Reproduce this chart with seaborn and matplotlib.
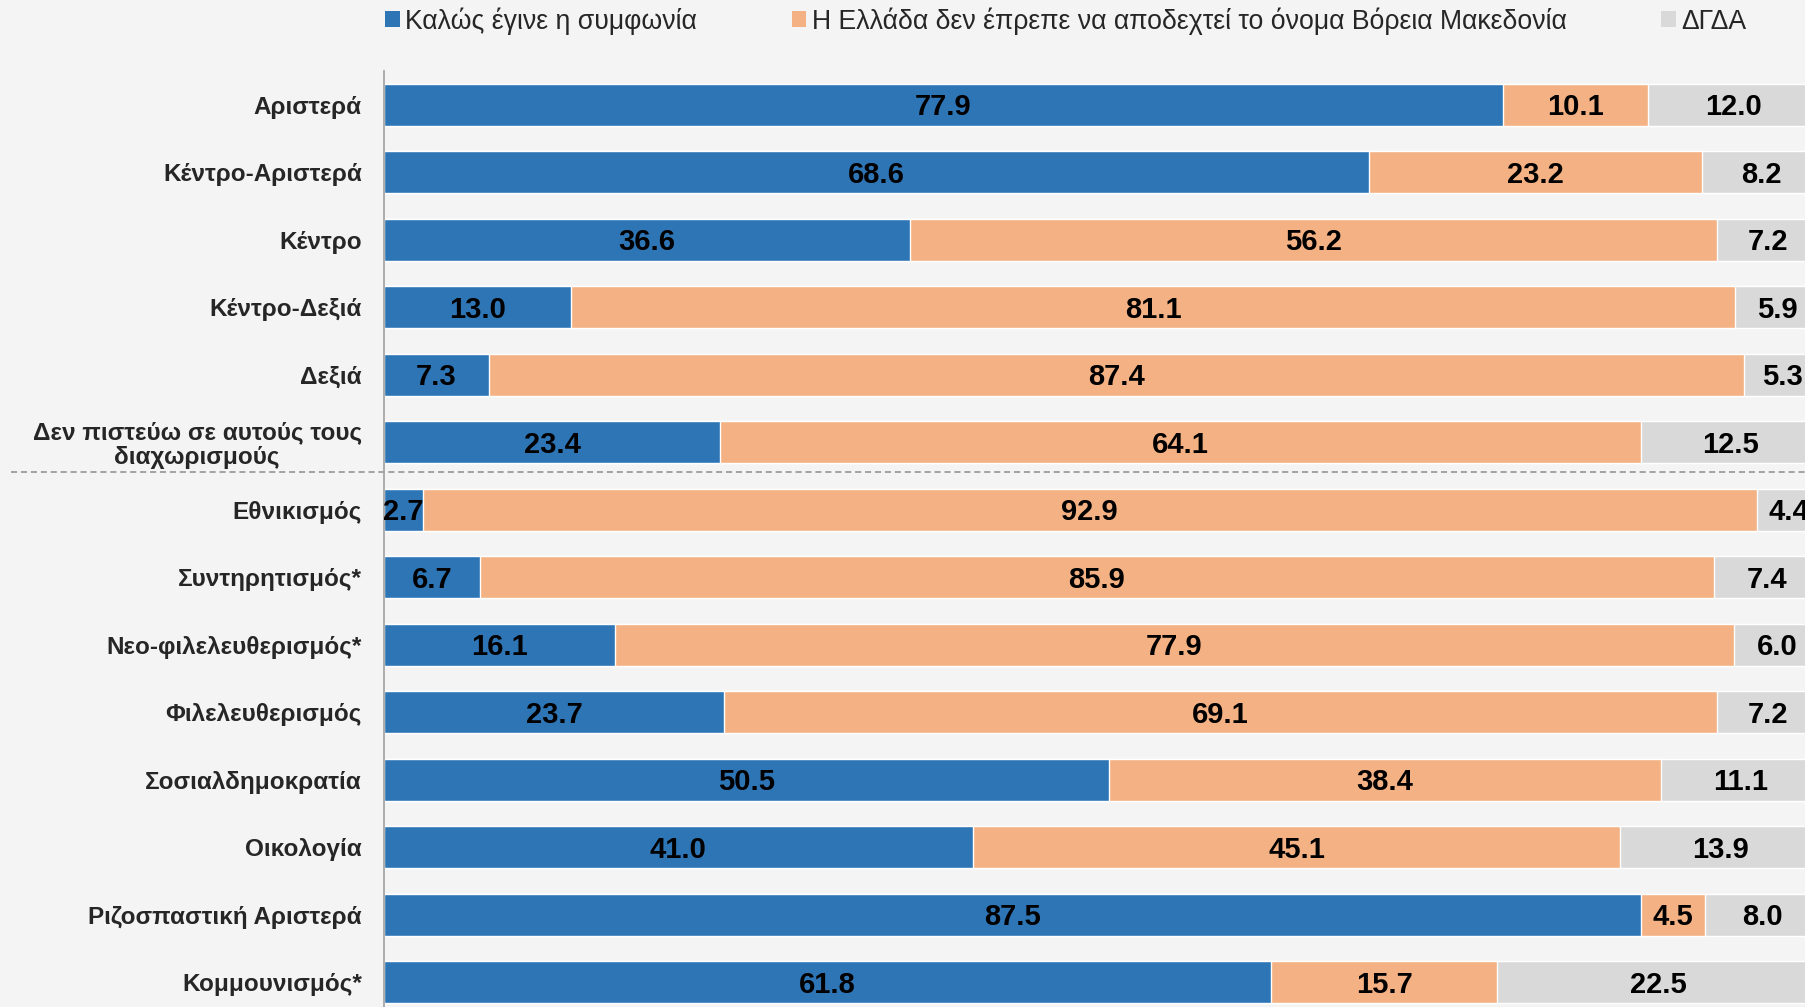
import numpy as np
import pandas as pd
import matplotlib
matplotlib.use("Agg")
import matplotlib.pyplot as plt
import seaborn as sns
from matplotlib.patches import Patch

sns.set_style("white")
plt.rcParams['font.family'] = ['Liberation Sans', 'DejaVu Sans']

categories = ['Αριστερά', 'Κέντρο-Αριστερά', 'Κέντρο', 'Κέντρο-Δεξιά', 'Δεξιά',
              'Δεν πιστεύω σε αυτούς τους\nδιαχωρισμούς', 'Εθνικισμός', 'Συντηρητισμός*',
              'Νεο-φιλελευθερισμός*', 'Φιλελευθερισμός', 'Σοσιαλδημοκρατία', 'Οικολογία',
              'Ριζοσπαστική Αριστερά', 'Κομμουνισμός*']
agree = [77.9, 68.6, 36.6, 13.0, 7.3, 23.4, 2.7, 6.7, 16.1, 23.7, 50.5, 41.0, 87.5, 61.8]
disagree = [10.1, 23.2, 56.2, 81.1, 87.4, 64.1, 92.9, 85.9, 77.9, 69.1, 38.4, 45.1, 4.5, 15.7]
dkna = [12.0, 8.2, 7.2, 5.9, 5.3, 12.5, 4.4, 7.4, 6.0, 7.2, 11.1, 13.9, 8.0, 22.5]
series_names = ['Καλώς έγινε η συμφωνία',
                'Η Ελλάδα δεν έπρεπε να αποδεχτεί το όνομα Βόρεια Μακεδονία',
                'ΔΓΔΑ']

colors = ['#2e75b6', '#f4b183', '#d9d9d9']
bg = '#f4f4f4'

df = pd.DataFrame({'cat': categories, 'a': agree, 'b': disagree, 'c': dkna})
df['ab'] = df['a'] + df['b']
df['abc'] = df['ab'] + df['c']

fig = plt.figure(figsize=(18.05, 10.07), dpi=100, facecolor=bg)
ax = fig.add_axes([384 / 1805, -0.0089, 1436 / 1805, 0.9384])
ax.set_facecolor(bg)

# stacked bars: draw cumulative totals from back to front
for col, c in zip(['abc', 'ab', 'a'], colors[::-1]):
    sns.barplot(data=df, x=col, y='cat', orient='h', color=c, width=0.62,
                saturation=1, ax=ax, order=categories)

ax.set_xlim(0, 100)
ax.set_ylim(len(categories) - 0.5, -0.5)
ax.set_xlabel('')
ax.set_ylabel('')
ax.set_xticks([])
for s in ['top', 'right', 'bottom']:
    ax.spines[s].set_visible(False)
ax.spines['left'].set_color('#a6a6a6')
ax.spines['left'].set_linewidth(1.3)

ax.tick_params(axis='y', length=0, pad=16)
for t in ax.get_yticklabels():
    t.set_fontsize(17.5)
    t.set_fontweight('bold')
    t.set_multialignment('center')
    t.set_linespacing(1.05)

# value labels
for i in range(len(categories)):
    starts = [0, agree[i], agree[i] + disagree[i]]
    vals = [agree[i], disagree[i], dkna[i]]
    for s, v in zip(starts, vals):
        ax.annotate(f'{v:.1f}', (s + v / 2, i), xytext=(0, -1.8),
                    textcoords='offset points', ha='center', va='center',
                    fontsize=21, fontweight='bold', color='black',
                    annotation_clip=False)

# dashed separator between ideology groups
ax.axhline(5.44, xmin=-0.26, xmax=1, color='#8c8c8c', lw=1.1,
           ls=(0, (4, 2.5)), clip_on=False)

handles = [Patch(facecolor=c, edgecolor='none') for c in colors]
fig.legend(handles, series_names, loc='center left',
           bbox_to_anchor=(385 / 1805, 1 - 21 / 1007), ncol=3, frameon=False,
           fontsize=19.2, handlelength=0.55, handleheight=0.55, handletextpad=0.2,
           columnspacing=3.55, borderpad=0, borderaxespad=0)

fig.savefig('out.png', dpi=100, facecolor=bg)
